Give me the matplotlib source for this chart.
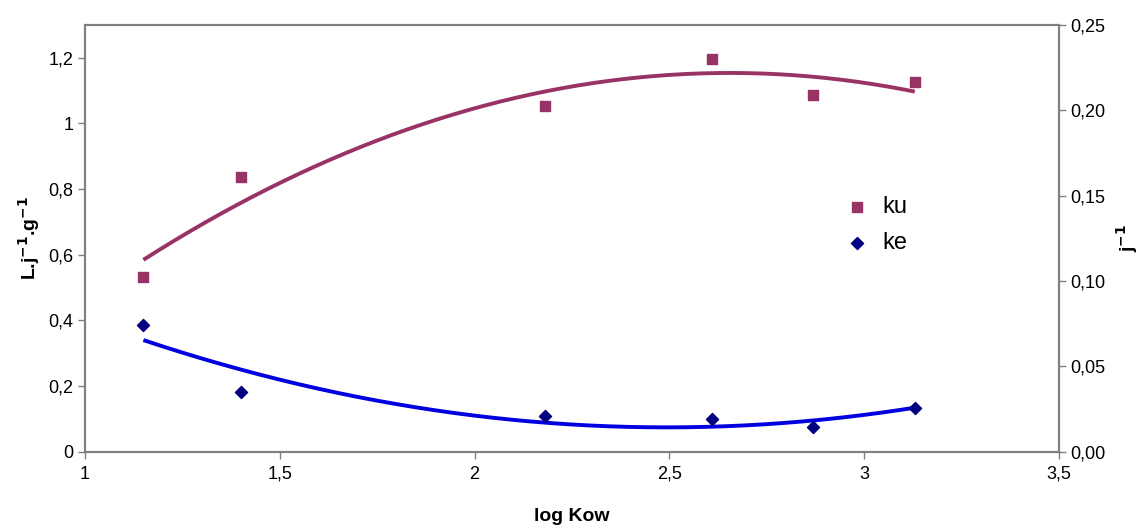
import numpy as np
import matplotlib.pyplot as plt

plt.rcParams['font.family'] = ['Liberation Sans', 'DejaVu Sans']

# log Kow of the compounds
log_kow = [1.15, 1.40, 2.18, 2.61, 2.87, 3.13]
# uptake rate ku (L.j-1.g-1), left axis
ku = [0.532, 0.838, 1.053, 1.197, 1.088, 1.125]
# elimination rate ke (j-1), right axis
ke = [0.0742, 0.0352, 0.0211, 0.0192, 0.0146, 0.0254]

ku_color = '#993366'
ke_line = '#0000E0'
ke_marker = '#000080'

fig, ax = plt.subplots(figsize=(11.39, 5.26), dpi=100)
fig.subplots_adjust(left=0.0746, right=0.9297, top=0.9525, bottom=0.141)
ax2 = ax.twinx()

# polynomial (order 2) trend lines, like Excel
xs = np.linspace(min(log_kow), max(log_kow), 200)
ku_fit = np.polyfit(log_kow, ku, 2)
ke_fit = np.polyfit(log_kow, ke, 2)

ax.plot(xs, np.polyval(ku_fit, xs), color=ku_color, lw=2.8, solid_capstyle='butt')
ax.scatter(log_kow, ku, marker='s', s=55, color=ku_color, zorder=3, label='ku')
ax2.plot(xs, np.polyval(ke_fit, xs), color=ke_line, lw=2.8, solid_capstyle='butt')
ax2.scatter(log_kow, ke, marker='D', s=38, color=ke_marker, zorder=3, label='ke')

ax.set_xlim(1, 3.5)
ax.set_ylim(0, 1.3)
ax2.set_ylim(0, 0.25)
ax.set_xticks([1, 1.5, 2, 2.5, 3, 3.5])
ax.set_xticklabels(['1', '1,5', '2', '2,5', '3', '3,5'])
ax.set_yticks([0, 0.2, 0.4, 0.6, 0.8, 1.0, 1.2])
ax.set_yticklabels(['0', '0,2', '0,4', '0,6', '0,8', '1', '1,2'])
ax2.set_yticks([0, 0.05, 0.10, 0.15, 0.20, 0.25])
ax2.set_yticklabels(['0,00', '0,05', '0,10', '0,15', '0,20', '0,25'])

for a in (ax, ax2):
    a.tick_params(labelsize=13, length=5, width=1, color='#808080')
    for sp in a.spines.values():
        sp.set_color('#808080')
        sp.set_linewidth(1.5)
ax.tick_params(axis='x', pad=5)

ax.set_xlabel('log Kow', fontsize=14, fontweight='bold', labelpad=18)
ax.set_ylabel('L.j$^{\\mathbf{-1}}$.g$^{\\mathbf{-1}}$', fontsize=14, fontweight='bold', labelpad=4)
ax2.set_ylabel('j$^{\\mathbf{-1}}$', fontsize=14, fontweight='bold', labelpad=6)

h1, l1 = ax.get_legend_handles_labels()
h2, l2 = ax2.get_legend_handles_labels()
ax.legend(h1 + h2, l1 + l2, loc='upper left', bbox_to_anchor=(0.747, 0.649),
          frameon=False, fontsize=17, handletextpad=0.05, labelspacing=0.6,
          markerscale=1.0)

fig.savefig('out.png', dpi=100)
